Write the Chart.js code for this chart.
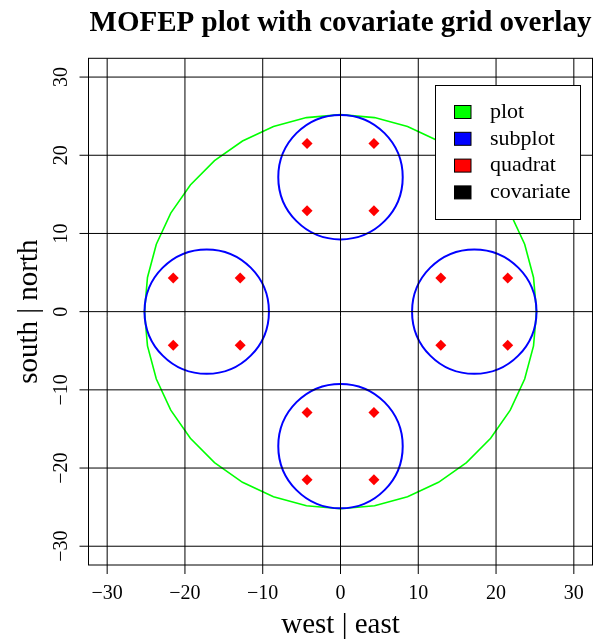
<!DOCTYPE html>
<html>
<head>
<meta charset="utf-8">
<script src="https://cdn.jsdelivr.net/npm/chart.js@4.4.1/dist/chart.umd.min.js"></script>
<style>
  html, body { margin: 0; padding: 0; background: #fff; }
  canvas { display: block; }
</style>
</head>
<body>
<canvas id="mofep" width="598" height="642"></canvas>
<script>
// grid / tick positions (metres from plot centre)
var tickValues = [-30, -20, -10, 0, 10, 20, 30];
var tickLabels = ["\u221230", "\u221220", "\u221210", "0", "10", "20", "30"];

// 0.5 acre plot and its four 1/20 acre subplots
var plotCenter = [0, 0];
var plotRadius = 25.2;
var subplotX = [0, 17.2, 0, -17.2];
var subplotY = [17.2, 0, -17.2, 0];
var subplotRadius = 8.0;

// quadrat centres, four per subplot
var quadratX = [-4.3, 4.3, -4.3, 4.3,  12.9, 21.5, 12.9, 21.5,  -4.3, 4.3, -4.3, 4.3,  -21.5, -12.9, -21.5, -12.9];
var quadratY = [21.5, 21.5, 12.9, 12.9,  4.3, 4.3, -4.3, -4.3,  -12.9, -12.9, -21.5, -21.5,  4.3, 4.3, -4.3, -4.3];

var legendLabels = ["plot", "subplot", "quadrat", "covariate"];
var legendColors = ["#00ff00", "#0000ff", "#ff0000", "#000000"];

var SERIF = '"Liberation Serif", "Times New Roman", serif';

var quadratPoints = quadratX.map(function (x, i) { return { x: x, y: quadratY[i] }; });

var mofepPlugin = {
  id: 'mofep',
  beforeDatasetsDraw: function (chart) {
    var ctx = chart.ctx, xs = chart.scales.x, ys = chart.scales.y, a = chart.chartArea;
    var ux = xs.getPixelForValue(1) - xs.getPixelForValue(0);
    var uy = ys.getPixelForValue(0) - ys.getPixelForValue(1);
    ctx.save();

    // plot boundary, drawn as a 36 sided polygon like R's symbols()
    var cx = xs.getPixelForValue(plotCenter[0]), cy = ys.getPixelForValue(plotCenter[1]);
    ctx.beginPath();
    for (var k = 0; k <= 36; k++) {
      var t = k * Math.PI / 18;
      var px = cx + plotRadius * ux * Math.cos(t), py = cy - plotRadius * uy * Math.sin(t);
      if (k === 0) ctx.moveTo(px, py); else ctx.lineTo(px, py);
    }
    ctx.strokeStyle = legendColors[0];
    ctx.lineWidth = 1.6;
    ctx.stroke();

    // subplots
    ctx.strokeStyle = legendColors[1];
    ctx.lineWidth = 2;
    for (var i = 0; i < subplotX.length; i++) {
      ctx.beginPath();
      ctx.arc(xs.getPixelForValue(subplotX[i]), ys.getPixelForValue(subplotY[i]), subplotRadius * ux, 0, Math.PI * 2);
      ctx.stroke();
    }

    // covariate grid, with the lines running past the box as tick marks
    ctx.strokeStyle = legendColors[3];
    ctx.lineWidth = 1;
    tickValues.forEach(function (v) {
      var px = xs.getPixelForValue(v);
      ctx.beginPath();
      ctx.moveTo(px, a.top);
      ctx.lineTo(px, a.bottom + 9);
      ctx.stroke();
      var py = ys.getPixelForValue(v);
      ctx.beginPath();
      ctx.moveTo(a.left - 9, py);
      ctx.lineTo(a.right, py);
      ctx.stroke();
    });
    ctx.restore();
  },
  afterDraw: function (chart) {
    var ctx = chart.ctx, xs = chart.scales.x, ys = chart.scales.y, a = chart.chartArea;
    ctx.save();

    // box
    ctx.strokeStyle = '#000';
    ctx.lineWidth = 1;
    ctx.strokeRect(a.left, a.top, a.right - a.left, a.bottom - a.top);

    // tick labels
    ctx.fillStyle = '#000';
    ctx.font = '20px ' + SERIF;
    ctx.textAlign = 'center';
    ctx.textBaseline = 'alphabetic';
    tickValues.forEach(function (v, i) {
      ctx.fillText(tickLabels[i], xs.getPixelForValue(v), 599);
      ctx.save();
      ctx.translate(67, ys.getPixelForValue(v));
      ctx.rotate(-Math.PI / 2);
      ctx.fillText(tickLabels[i], 0, 0);
      ctx.restore();
    });

    // axis titles
    ctx.font = '29px ' + SERIF;
    ctx.fillText('west | east', (a.left + a.right) / 2, 633);
    ctx.save();
    ctx.translate(37, (a.top + a.bottom) / 2);
    ctx.rotate(-Math.PI / 2);
    ctx.fillText('south | north', 0, 0);
    ctx.restore();

    // main title
    ctx.font = 'bold 29px ' + SERIF;
    ctx.fillText('MOFEP plot with covariate grid overlay', (a.left + a.right) / 2, 31);

    // legend
    var lx = 435, ly = 85, lw = 145, lh = 134;
    ctx.fillStyle = '#fff';
    ctx.fillRect(lx, ly, lw, lh);
    ctx.strokeRect(lx + 0.5, ly + 0.5, lw, lh);
    ctx.font = '22px ' + SERIF;
    ctx.textAlign = 'left';
    ctx.textBaseline = 'middle';
    legendLabels.forEach(function (lab, i) {
      var ry = 112 + i * 26.8;
      ctx.fillStyle = legendColors[i];
      ctx.fillRect(454.5, ry - 6.5, 16.5, 13);
      ctx.strokeStyle = '#000';
      ctx.strokeRect(454.5, ry - 6.5, 16.5, 13);
      ctx.fillStyle = '#000';
      ctx.fillText(lab, 490, ry);
    });
    ctx.restore();
  }
};

new Chart(document.getElementById('mofep'), {
  type: 'scatter',
  data: {
    datasets: [{
      label: 'quadrat',
      data: quadratPoints,
      pointStyle: 'rectRot',
      pointRadius: 5.5,
      pointBackgroundColor: legendColors[2],
      pointBorderColor: legendColors[2],
      pointBorderWidth: 0,
      clip: false
    }]
  },
  options: {
    responsive: false,
    animation: false,
    layout: { padding: { left: 88.5, right: 3.5, top: 58.3, bottom: 77 } },
    scales: {
      x: { type: 'linear', min: -32.4, max: 32.4, display: false },
      y: { type: 'linear', min: -32.4, max: 32.4, display: false }
    },
    plugins: {
      legend: { display: false },
      title: { display: false },
      tooltip: { enabled: false }
    }
  },
  plugins: [mofepPlugin]
});
</script>
</body>
</html>
